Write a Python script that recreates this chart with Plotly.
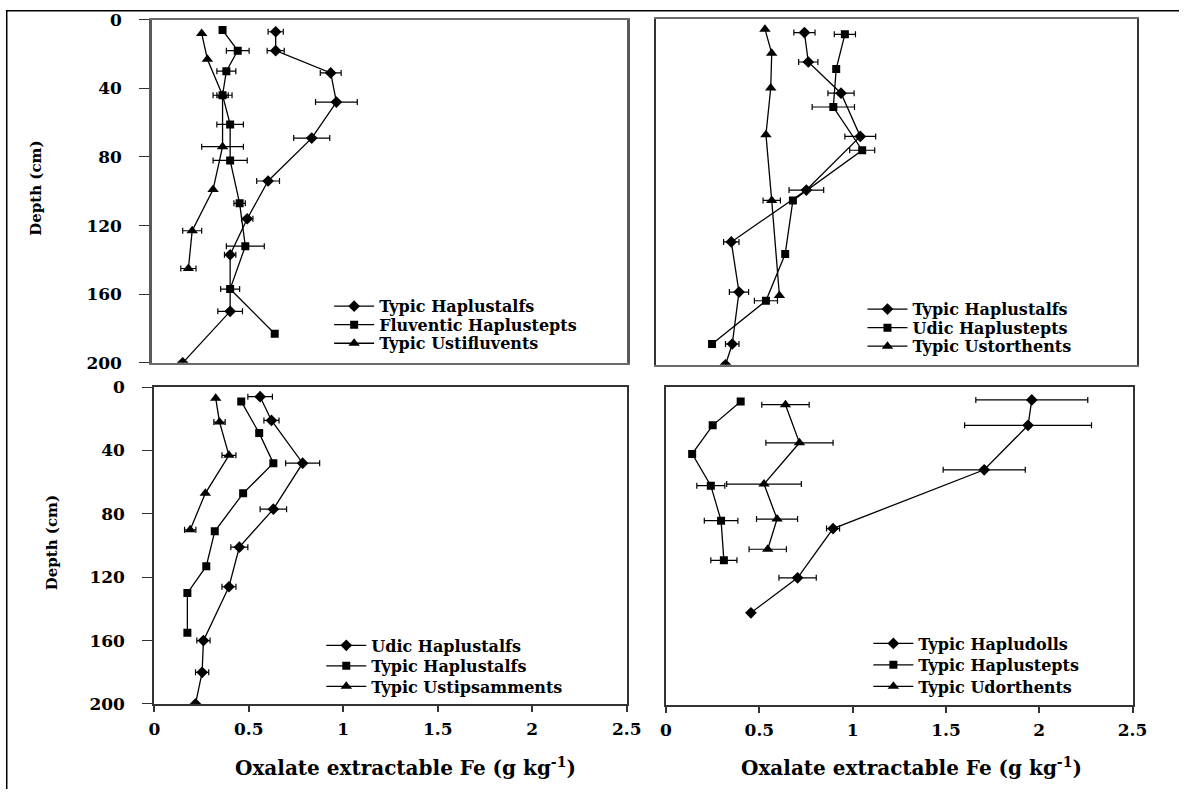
import plotly.graph_objects as go

# page is 1195x805; the html body keeps an 8px margin, so the figure is 16px smaller
PAGE_W, PAGE_H = 1195, 805
OFF = 8
W, H = PAGE_W - 2 * OFF, PAGE_H - 2 * OFF

# ---------------- data ----------------
# Top-left panel
tl_names = ["Typic Haplustalfs", "Fluventic Haplustepts", "Typic Ustifluvents"]
tl_d1 = [7, 18, 31, 48, 69, 94, 116, 137, 170, 200]
tl_fe1 = [0.65, 0.65, 0.94, 0.97, 0.84, 0.61, 0.50, 0.41, 0.41, 0.16]
tl_er1 = [0.04, 0.045, 0.055, 0.11, 0.095, 0.06, 0.03, 0.03, 0.065, 0]
tl_d2 = [6, 18, 30, 44, 61, 82, 107, 132, 157, 183]
tl_fe2 = [0.37, 0.45, 0.39, 0.37, 0.41, 0.41, 0.46, 0.49, 0.41, 0.645]
tl_er2 = [0, 0.06, 0.05, 0.05, 0.07, 0.09, 0.03, 0.10, 0.05, 0]
tl_d3 = [8, 23, 44, 74, 99, 123, 145]
tl_fe3 = [0.26, 0.29, 0.37, 0.37, 0.32, 0.21, 0.19]
tl_er3 = [0, 0, 0.03, 0.11, 0, 0.05, 0.04]

# Top-right panel
tr_names = ["Typic Haplustalfs", "Udic Haplustepts", "Typic Ustorthents"]
tr_d1 = [8, 25, 43, 68, 99, 129, 158, 188, 200]
tr_fe1 = [0.77, 0.79, 0.96, 1.06, 0.78, 0.39, 0.43, 0.395, 0.36]
tr_er1 = [0.055, 0.05, 0.068, 0.08, 0.09, 0.04, 0.05, 0.035, 0]
tr_d2 = [9, 29, 51, 76, 105, 136, 163, 188]
tr_fe2 = [0.98, 0.935, 0.92, 1.07, 0.71, 0.67, 0.57, 0.29]
tr_er2 = [0.055, 0, 0.11, 0.065, 0, 0, 0.06, 0]
tr_d3 = [6, 20, 40, 67, 105, 160]
tr_fe3 = [0.565, 0.60, 0.595, 0.57, 0.60, 0.64]
tr_er3 = [0, 0, 0, 0, 0.045, 0]

# Bottom-left panel
bl_names = ["Udic Haplustalfs", "Typic Haplustalfs", "Typic Ustipsamments"]
bl_d1 = [6, 21, 48, 77, 101, 126, 160, 180, 200]
bl_fe1 = [0.56, 0.62, 0.785, 0.63, 0.45, 0.395, 0.26, 0.253, 0.218]
bl_er1 = [0.065, 0.04, 0.09, 0.07, 0.045, 0.037, 0.035, 0.035, 0]
bl_d2 = [9, 29, 48, 67, 91, 113, 130, 155]
bl_fe2 = [0.46, 0.555, 0.63, 0.47, 0.32, 0.275, 0.175, 0.175]
bl_er2 = [0, 0, 0, 0, 0, 0, 0, 0]
bl_d3 = [7, 22, 43, 67, 90]
bl_fe3 = [0.325, 0.345, 0.395, 0.27, 0.19]
bl_er3 = [0, 0.03, 0.037, 0, 0.03]

# Bottom-right panel
br_names = ["Typic Hapludolls", "Typic Haplustepts", "Typic Udorthents"]
br_d1 = [8, 24, 52, 89, 120, 142]
br_fe1 = [1.96, 1.94, 1.705, 0.895, 0.705, 0.455]
br_er1 = [0.30, 0.34, 0.22, 0.035, 0.10, 0]
br_d2 = [9, 24, 42, 62, 84, 109]
br_fe2 = [0.40, 0.25, 0.14, 0.24, 0.295, 0.31]
br_er2 = [0, 0, 0, 0.075, 0.09, 0.07]
br_d3 = [11, 35, 61, 83, 102]
br_fe3 = [0.64, 0.715, 0.525, 0.595, 0.545]
br_er3 = [0.127, 0.18, 0.2, 0.11, 0.1]

depth_ticks = [0, 40, 80, 120, 160, 200]
fe_ticks = [0, 0.5, 1, 1.5, 2, 2.5]
fe_ticklabels = ["0", "0.5", "1", "1.5", "2", "2.5"]
x_title = "Oxalate extractable Fe (g kg<sup>-1</sup>)"
y_title = "Depth (cm)"

FONT = "DejaVu Serif"


def px(x):  # page x pixel -> paper fraction
    return (x - OFF) / W


def py(y):  # page y pixel -> paper fraction
    return 1 - (y - OFF) / H


# ---------------- layout geometry (page pixels) ----------------
panels = {
    # name: (x0, x1, ytop, ybottom)
    "tl": (157, 640, 18, 370),
    "tr": (670, 1160, 17, 372),
    "bl": (159, 640, 395, 720),
    "br": (680, 1155, 395, 721),
}
axis_ids = {"tl": ("x", "y"), "tr": ("x2", "y2"), "bl": ("x3", "y3"), "br": ("x4", "y4")}
symbols = ["diamond", "square", "triangle-up"]
msizes = [9, 8, 10]

# legend: marker centre x, row centre y
legend_pos = {
    "tl": (357, [312, 331, 350]),
    "tr": (900, [315, 334, 353]),
    "bl": (349, [660, 681, 702]),
    "br": (906, [658, 680, 702]),
}

series = {
    "tl": (tl_names, [(tl_d1, tl_fe1, tl_er1), (tl_d2, tl_fe2, tl_er2), (tl_d3, tl_fe3, tl_er3)]),
    "tr": (tr_names, [(tr_d1, tr_fe1, tr_er1), (tr_d2, tr_fe2, tr_er2), (tr_d3, tr_fe3, tr_er3)]),
    "bl": (bl_names, [(bl_d1, bl_fe1, bl_er1), (bl_d2, bl_fe2, bl_er2), (bl_d3, bl_fe3, bl_er3)]),
    "br": (br_names, [(br_d1, br_fe1, br_er1), (br_d2, br_fe2, br_er2), (br_d3, br_fe3, br_er3)]),
}

fig = go.Figure()
layout_legends = {}
leg_idx = 0
for key in ["tl", "tr", "bl", "br"]:
    xa, ya = axis_ids[key]
    names, data = series[key]
    lx, rows = legend_pos[key]
    for k, (d, fe, er) in enumerate(data):
        # error bars only where an error exists
        ed = [dd for dd, e in zip(d, er) if e > 0]
        ef = [ff for ff, e in zip(fe, er) if e > 0]
        ee = [e for e in er if e > 0]
        if ee:
            fig.add_trace(go.Scatter(
                x=ef, y=ed, mode="markers", xaxis=xa, yaxis=ya,
                marker=dict(size=2, color="black", opacity=0),
                error_x=dict(type="data", array=ee, visible=True, color="black",
                             thickness=1.2, width=3),
                showlegend=False, hoverinfo="skip"))
        leg_idx += 1
        lname = "legend" if leg_idx == 1 else f"legend{leg_idx}"
        fig.add_trace(go.Scatter(
            x=fe, y=d, mode="lines+markers", name=names[k], xaxis=xa, yaxis=ya,
            line=dict(color="black", width=1.3),
            marker=dict(symbol=symbols[k], size=msizes[k], color="black"),
            legend=lname, showlegend=True))
        layout_legends[lname] = dict(
            x=px(lx - 20), y=py(rows[k]), xanchor="left", yanchor="middle",
            bgcolor="rgba(0,0,0,0)", borderwidth=0, itemwidth=40,
            font=dict(family=FONT, size=16, color="black", weight="bold"),
            itemclick=False, itemdoubleclick=False,
        )

layout = dict(
    width=W, height=H, margin=dict(l=0, r=0, t=0, b=0),
    paper_bgcolor="white", plot_bgcolor="white",
    showlegend=True,
    font=dict(family=FONT, color="black"),
)
layout.update(layout_legends)

for key in ["tl", "tr", "bl", "br"]:
    x0, x1, yt, yb = panels[key]
    xa, ya = axis_ids[key]
    xname = "xaxis" if xa == "x" else "xaxis" + xa[1:]
    yname = "yaxis" if ya == "y" else "yaxis" + ya[1:]
    bottom = key in ("bl", "br")
    left = key in ("tl", "bl")
    layout[xname] = dict(
        domain=[px(x0), px(x1)], range=[0, 2.5], anchor=ya,
        showgrid=False, zeroline=False, showline=True, mirror=True,
        linecolor="#6a6a6a" if not bottom else "#333333", linewidth=2,
        tickmode="array", tickvals=fe_ticks, ticktext=fe_ticklabels,
        showticklabels=bottom, ticks="outside" if bottom else "",
        ticklen=6, tickcolor="#333333", tickwidth=1.5,
        tickfont=dict(family=FONT, size=17, color="black", weight="bold"),
        ticklabelstandoff=3,
    )
    layout[yname] = dict(
        domain=[py(yb), py(yt)], range=[200, 0], anchor=xa,
        showgrid=False, zeroline=False, showline=True, mirror=True,
        linecolor="#5a5a5a" if key == "tl" else "#333333", linewidth=2 if key != "tl" else 3,
        tickmode="array", tickvals=depth_ticks,
        showticklabels=left, ticks="outside" if left else "",
        ticklen=10, tickcolor="#333333", tickwidth=1.2,
        tickfont=dict(family=FONT, size=17, color="black", weight="bold"),
        ticklabelstandoff=14,
    )

fig.update_layout(**layout)

# axis titles
ann = []
for (xc, yc) in [(39, 191), (55, 555)]:
    ann.append(dict(text=y_title, x=px(xc), y=py(yc), xref="paper", yref="paper",
                    xanchor="center", yanchor="middle",
                    showarrow=False, textangle=-90,
                    font=dict(family=FONT, size=15, color="black", weight="bold")))
for xc in [415, 930]:
    ann.append(dict(text=x_title, x=px(xc), y=py(785), xref="paper", yref="paper",
                    xanchor="center", yanchor="middle",
                    showarrow=False,
                    font=dict(family=FONT, size=20, color="black", weight="bold")))
fig.update_layout(annotations=ann)

# outer frame
fig.add_shape(type="rect", xref="paper", yref="paper",
              x0=0.75 / W, x1=1.05, y0=-0.05, y1=1 - 0.75 / H,
              line=dict(color="black", width=1.5), fillcolor="rgba(0,0,0,0)")

fig.write_html("out.html")
